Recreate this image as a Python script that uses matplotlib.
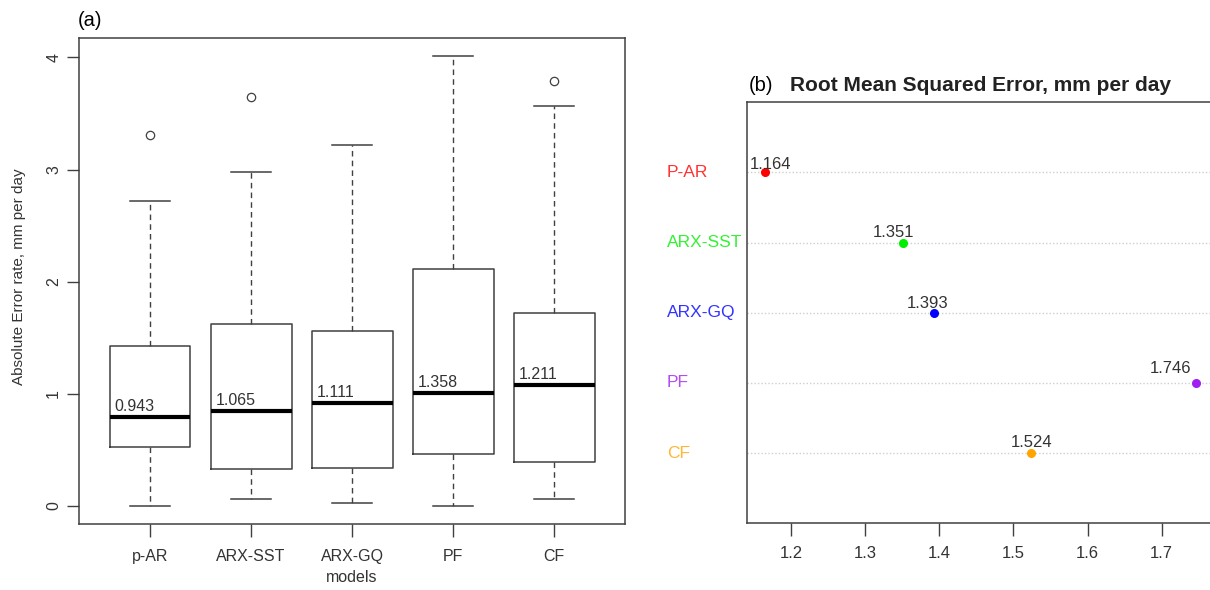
import matplotlib
matplotlib.use("Agg")
from matplotlib import pyplot as plt
from matplotlib import transforms

plt.rcParams['font.family'] = ['Liberation Sans', 'DejaVu Sans']

# panel (a): absolute error boxplots
models = ["p-AR", "ARX-SST", "ARX-GQ", "PF", "CF"]
whisker_low = [0.00, 0.06, 0.03, 0.00, 0.06]
q1 = [0.53, 0.33, 0.34, 0.46, 0.39]
medians = [0.79, 0.85, 0.92, 1.01, 1.08]
q3 = [1.43, 1.62, 1.56, 2.11, 1.72]
whisker_high = [2.72, 2.98, 3.22, 4.01, 3.57]
outliers = [[3.31], [3.65], [], [], [3.79]]
box_labels = ["0.943", "1.065", "1.111", "1.358", "1.211"]

# panel (b): RMSE dotchart
rmse_models = ["P-AR", "ARX-SST", "ARX-GQ", "PF", "CF"]
rmse = [1.164, 1.351, 1.393, 1.746, 1.524]
rmse_colors = ["#ff0000", "#00ee00", "#0000ff", "#a020f0", "#ffa500"]
# hand nudges of the value labels (pixels)
label_dx = [6, -10, -7, -25, 0]
label_dy = [3, 6, 5, 10, 6]

W, H = 1210, 590
fig = plt.figure(figsize=(W / 100, H / 100), dpi=100)
line_col = "#404040"
text_col = "#333333"


def px_axes(left, top, right, bottom):
    return fig.add_axes([left / W, (H - bottom) / H, (right - left) / W, (bottom - top) / H])


# ---- (a) ----
ax1 = px_axes(79.3, 38.3, 625, 524)
stats = []
for i in range(len(models)):
    stats.append(dict(whislo=whisker_low[i], q1=q1[i], med=medians[i], q3=q3[i],
                      whishi=whisker_high[i], fliers=outliers[i], label=models[i]))
positions = list(range(1, len(models) + 1))
ax1.bxp(stats, positions=positions, widths=0.8, showfliers=True,
        boxprops=dict(color=line_col, lw=1.1),
        medianprops=dict(color="black", lw=3, solid_capstyle="butt"),
        whiskerprops=dict(color=line_col, lw=1, linestyle=(0, (4, 3))),
        capprops=dict(color=line_col, lw=1.1),
        flierprops=dict(marker="o", mfc="none", mec=line_col, ms=6, mew=0.9))
ax1.set_xlim(0.3, len(models) + 0.7)
ax1.set_ylim(-0.16, 4.17)
ax1.set_yticks([0, 1, 2, 3, 4])
ax1.set_yticklabels(["0", "1", "2", "3", "4"], rotation=90, va="center")
for p, m, lab in zip(positions, medians, box_labels):
    ax1.annotate(lab, (p - 0.4, m), xytext=(5, 6), textcoords="offset pixels",
                 ha="left", va="baseline", fontsize=11.5, color=text_col)
ax1.tick_params(axis="x", length=9, width=1, color=line_col, pad=9,
                labelsize=11.5, labelcolor=text_col)
ax1.tick_params(axis="y", length=9, width=1, color=line_col, pad=4,
                labelsize=11.5, labelcolor=text_col)
for s in ax1.spines.values():
    s.set_color(line_col)
    s.set_linewidth(1.1)
fig.text(19 / W, 1 - 277 / H, "Absolute Error rate, mm per day", rotation=90,
         ha="center", va="center", fontsize=11, color=text_col)
fig.text((79.3 + 625) / 2 / W, 1 - 577 / H, "models", ha="center", va="center",
         fontsize=11.5, color=text_col)
fig.text(78 / W, 1 - 20 / H, "(a)", ha="left", va="center", fontsize=14.5, color="black")

# ---- (b) ----
ax2 = px_axes(747.3, 102.3, 1213, 523.3)
n = len(rmse)
span = max(rmse) - min(rmse)
xlo, xhi = min(rmse) - 0.04 * span, max(rmse) + 0.04 * span
ypos = [n - i for i in range(n)]
ax2.hlines(ypos, xlo, xhi, colors="#cfcfcf", linestyles=(0, (1, 1.5)), lw=1, zorder=1)
for x, y, c in zip(rmse, ypos, rmse_colors):
    ax2.plot(x, y, "o", color=c, ms=5.5, zorder=3)
for x, y, dx, dy in zip(rmse, ypos, label_dx, label_dy):
    ax2.annotate("%.3f" % x, (x, y), xytext=(dx, dy), textcoords="offset pixels",
                 ha="center", va="baseline", fontsize=12, color=text_col)
tr = transforms.blended_transform_factory(fig.transFigure, ax2.transData)
for name, y, c in zip(rmse_models, ypos, rmse_colors):
    ax2.text(666.7 / W, y, name, transform=tr, ha="left", va="center",
             fontsize=12.5, color=c, alpha=0.8)
ax2.set_xlim(xlo, xhi)
ax2.set_ylim(0, n + 1)
ax2.set_yticks([])
ax2.set_xticks([1.2, 1.3, 1.4, 1.5, 1.6, 1.7])
ax2.set_xticklabels(["1.2", "1.3", "1.4", "1.5", "1.6", "1.7"])
ax2.tick_params(axis="x", length=9, width=1, color=line_col, pad=7,
                labelsize=12, labelcolor=text_col)
for s in ax2.spines.values():
    s.set_color(line_col)
    s.set_linewidth(1.1)
ax2.set_title("Root Mean Squared Error, mm per day", fontsize=15, fontweight="bold",
              color="#222222", pad=8)
fig.text(749 / W, 1 - 85 / H, "(b)", ha="left", va="center", fontsize=14.5, color="black")

fig.savefig("out.png", dpi=100)
